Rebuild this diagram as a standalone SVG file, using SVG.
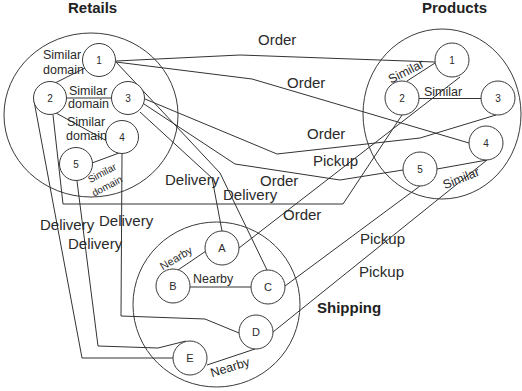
<svg xmlns="http://www.w3.org/2000/svg" width="522" height="391" viewBox="0 0 522 391">
<style>
.grp{fill:none;stroke:#3a3a3a;stroke-width:1}
.nd{fill:#fff;stroke:#3a3a3a;stroke-width:1}
.ln{fill:none;stroke:#333;stroke-width:1}
.t{font-family:"Liberation Sans",Arial,sans-serif;fill:#2a2a2a}
.title{font-family:"Liberation Sans",Arial,sans-serif;font-weight:bold;font-size:15px;fill:#222}
.lbl{font-size:15px}
.sm{font-size:12.5px}
.num{font-size:10px;text-anchor:middle}
.let{font-size:11px;text-anchor:middle}
</style>
<rect width="522" height="391" fill="#fff"/>
<g id="clusters">
<ellipse class="grp" cx="91" cy="115" rx="87" ry="82"/>
<ellipse class="grp" cx="442" cy="114" rx="79" ry="85"/>
<ellipse class="grp" cx="216.5" cy="304.5" rx="83.5" ry="82.5"/>
<text class="title" x="68" y="13">Retails</text>
<text class="title" x="422" y="13">Products</text>
<text class="title" x="317" y="313">Shipping</text>
</g>
<g id="connectors">
<polyline class="ln" points="85,68 55,83"/>
<line class="ln" x1="66" y1="98" x2="112" y2="98"/>
<line class="ln" x1="56" y1="113" x2="107" y2="141"/>
<line class="ln" x1="92" y1="163" x2="119" y2="153"/>
<line class="ln" x1="407" y1="81" x2="435" y2="63"/>
<line class="ln" x1="419" y1="98.5" x2="481" y2="98.5"/>
<line class="ln" x1="437" y1="169" x2="487" y2="160"/>
<line class="ln" x1="178" y1="270" x2="206" y2="251"/>
<line class="ln" x1="190" y1="287" x2="251" y2="287"/>
<line class="ln" x1="207" y1="365" x2="255" y2="349"/>
<polyline class="ln" points="116,61 240,55 435,62"/>
<polyline class="ln" points="116,62 252,79 469,143"/>
<polyline class="ln" points="145,99 277,154 420,138 496,115"/>
<polyline class="ln" points="144,104 235,164 340,180 403,170"/>
<polyline class="ln" points="53,115 63,204 343,204 402,115"/>
<line class="ln" x1="460" y1="77" x2="239" y2="248"/>
<line class="ln" x1="420" y1="186" x2="285" y2="286"/>
<line class="ln" x1="487" y1="160" x2="273" y2="332"/>
<polyline class="ln" points="140,112 212,178 222,231"/>
<polyline class="ln" points="116,62 220,173 267,270"/>
<polyline class="ln" points="34,101 82,358 173,358"/>
<polyline class="ln" points="77,181 98,346 158,348 186,341"/>
<polyline class="ln" points="122,154 121,316 205,319 239,333"/>
</g>
<g id="r1"><circle class="nd" cx="99" cy="60" r="16.5"/><text class="t num" x="99" y="64">1</text></g>
<g id="r2"><circle class="nd" cx="50" cy="98" r="16.5"/><text class="t num" x="50" y="102">2</text></g>
<g id="r3"><circle class="nd" cx="128" cy="98" r="16.5"/><text class="t num" x="128" y="102">3</text></g>
<g id="r4"><circle class="nd" cx="122" cy="137" r="16.5"/><text class="t num" x="122" y="141">4</text></g>
<g id="r5"><circle class="nd" cx="76" cy="164" r="16.5"/><text class="t num" x="76" y="168">5</text></g>
<g id="p1"><circle class="nd" cx="452" cy="60" r="17"/><text class="t num" x="452" y="64">1</text></g>
<g id="p2"><circle class="nd" cx="402" cy="98" r="17"/><text class="t num" x="402" y="102">2</text></g>
<g id="p3"><circle class="nd" cx="498" cy="98" r="17"/><text class="t num" x="498" y="102">3</text></g>
<g id="p4"><circle class="nd" cx="486" cy="143" r="17"/><text class="t num" x="486" y="147">4</text></g>
<g id="p5"><circle class="nd" cx="420" cy="169" r="17"/><text class="t num" x="420" y="173">5</text></g>
<g id="sA"><circle class="nd" cx="222" cy="248" r="17"/><text class="t let" x="222" y="252">A</text></g>
<g id="sB"><circle class="nd" cx="173" cy="286" r="17"/><text class="t let" x="173" y="290">B</text></g>
<g id="sC"><circle class="nd" cx="268" cy="287" r="17"/><text class="t let" x="268" y="291">C</text></g>
<g id="sD"><circle class="nd" cx="256" cy="332" r="17"/><text class="t let" x="256" y="336">D</text></g>
<g id="sE"><circle class="nd" cx="190" cy="358" r="17"/><text class="t let" x="190" y="362">E</text></g>
<g id="labels">
<text class="t sm" x="43" y="59">Similar</text>
<text class="t sm" x="43" y="74">domain</text>
<text class="t sm" x="69" y="95">Similar</text>
<text class="t sm" x="68" y="108">domain</text>
<text class="t sm" x="67" y="126">Similar</text>
<text class="t sm" x="66" y="140">domain</text>
<g transform="translate(102,173) rotate(-28)"><text class="t" font-size="10" text-anchor="middle" y="3.5">Similar</text></g>
<g transform="translate(107,186) rotate(-28)"><text class="t" font-size="10" text-anchor="middle" y="3.5">domain</text></g>
<g transform="translate(406,71) rotate(-27)"><text class="t sm" text-anchor="middle" y="4.5">Similar</text></g>
<text class="t sm" x="424" y="96">Similar</text>
<g transform="translate(461,178) rotate(-22)"><text class="t sm" text-anchor="middle" y="4.5">Similar</text></g>
<g transform="translate(176,258) rotate(-31)"><text class="t" font-size="11" text-anchor="middle" y="4">Nearby</text></g>
<text class="t sm" x="193" y="283">Nearby</text>
<g transform="translate(230,367) rotate(-17)"><text class="t sm" text-anchor="middle" y="4.5">Nearby</text></g>
<text class="t lbl" x="258" y="45">Order</text>
<text class="t lbl" x="287" y="88">Order</text>
<text class="t lbl" x="307" y="139">Order</text>
<text class="t lbl" x="313" y="166">Pickup</text>
<text class="t lbl" x="260" y="186">Order</text>
<text class="t lbl" x="165" y="185">Delivery</text>
<text class="t lbl" x="223" y="200">Delivery</text>
<text class="t lbl" x="283" y="220">Order</text>
<text class="t lbl" x="40" y="230">Delivery</text>
<text class="t lbl" x="99" y="226">Delivery</text>
<text class="t lbl" x="68" y="249">Delivery</text>
<text class="t lbl" x="360" y="244">Pickup</text>
<text class="t lbl" x="359" y="277">Pickup</text>
</g>
</svg>
